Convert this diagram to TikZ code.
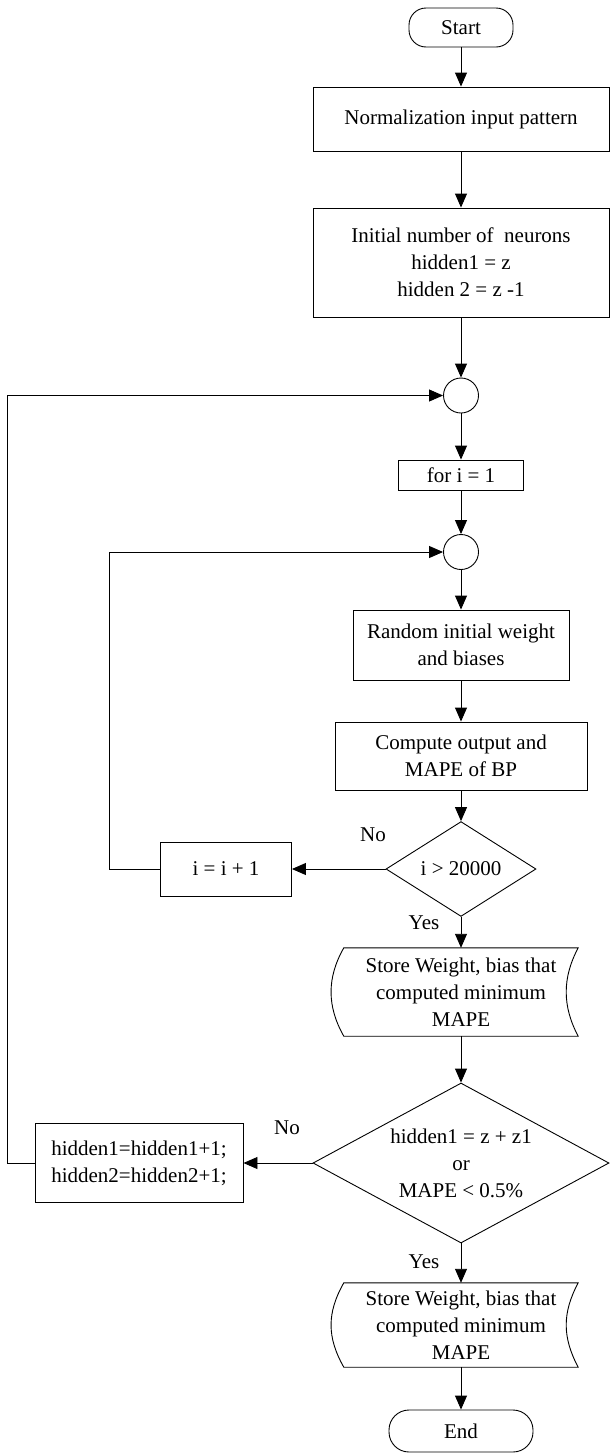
\documentclass[tikz,border=0pt]{standalone}
\usepackage{fontspec}
\setmainfont{Liberation Serif}
\usetikzlibrary{shapes.geometric,arrows.meta}
% outline of a stored-data box drawn round a plain node
\newcommand{\storeoutline}[1]{%
  \draw[line width=0.9pt] (#1.north west) .. controls +(-17,30) and +(-17,-30) .. (#1.south west)
    -- (#1.south east) .. controls +(-16,-30) and +(-16,30) .. (#1.north east) -- cycle;}

\begin{document}
\begin{tikzpicture}[x=1pt,y=-1pt,
  every node/.style={font=\fontsize{21}{27}\selectfont,inner sep=0pt,align=center},
  box/.style={draw,line width=0.9pt},
  term/.style={draw,line width=0.9pt,rounded corners=17pt},
  junction/.style={draw,line width=0.9pt,circle,minimum size=35pt},
  decide/.style={draw,line width=0.9pt,diamond},
  storebox/.style={minimum width=234pt},
  arr/.style={line width=0.9pt,-{Triangle[length=14pt,width=12pt]}},
]
\useasboundingbox (0,0) rectangle (610,1454);

\node[term,minimum width=104pt,minimum height=39pt] (start) at (461,27.5) {Start};
\node[box,minimum width=296pt,minimum height=64pt] (norm) at (461,119) {Normalization input pattern};
\node[box,minimum width=296pt,minimum height=109pt] (init) at (461,262.5)
  {Initial number of \ neurons\\hidden1 = z\\hidden 2 = z -1};
\node[junction] (c1) at (461,395.5) {};
\node[box,minimum width=125pt,minimum height=30pt] (fori) at (461,475) {for i = 1};
\node[junction] (c2) at (461,552) {};
\node[box,minimum width=216pt,minimum height=70pt] (rand) at (461,645) {Random initial weight\\and biases};
\node[box,minimum width=252pt,minimum height=68pt] (comp) at (461,756) {Compute output and\\MAPE of BP};
\node[decide,minimum width=150pt,minimum height=78pt] (d1) at (461,869) {i > 20000};
\node[box,minimum width=131pt,minimum height=54pt] (inc) at (226,869) {i = i + 1};
\node[storebox,minimum height=88pt] (s1) at (461,992) {Store Weight, bias that\\computed minimum\\MAPE};
\storeoutline{s1}
\node[decide,minimum width=296pt,minimum height=160pt,aspect=1.85] (d2) at (461,1163)
  {hidden1 = z + z1\\or\\MAPE < 0.5\%};
\node[box,minimum width=208pt,minimum height=79pt] (hid) at (139,1163) {hidden1=hidden1+1;\\hidden2=hidden2+1;};
\node[storebox,minimum height=84pt] (s2) at (461,1325) {Store Weight, bias that\\computed minimum\\MAPE};
\storeoutline{s2}
\node[term,minimum width=144pt,minimum height=42pt,rounded corners=20pt] (end) at (461,1431) {End};

\node (no1) at (373,835) {No};
\node (yes1) at (424,923) {Yes};
\node (no2) at (287,1128) {No};
\node (yes2) at (424,1262) {Yes};

\draw[arr] (start) -- (norm);
\draw[arr] (norm) -- (init);
\draw[arr] (init) -- (c1);
\draw[arr] (c1) -- (fori);
\draw[arr] (fori) -- (c2);
\draw[arr] (c2) -- (rand);
\draw[arr] (rand) -- (comp);
\draw[arr] (comp) -- (d1);
\draw[arr] (d1) -- (s1);
\draw[arr] (s1) -- (d2);
\draw[arr] (d2) -- (s2);
\draw[arr] (s2) -- (end);
\draw[arr] (d1.west) -- (inc.east);
\draw[arr] (inc.west) -- ++(-51,0) |- (c2.west);
\draw[arr] (d2.west) -- (hid.east);
\draw[arr] (hid.west) -- ++(-27,0) |- (c1.west);
\end{tikzpicture}
\end{document}
